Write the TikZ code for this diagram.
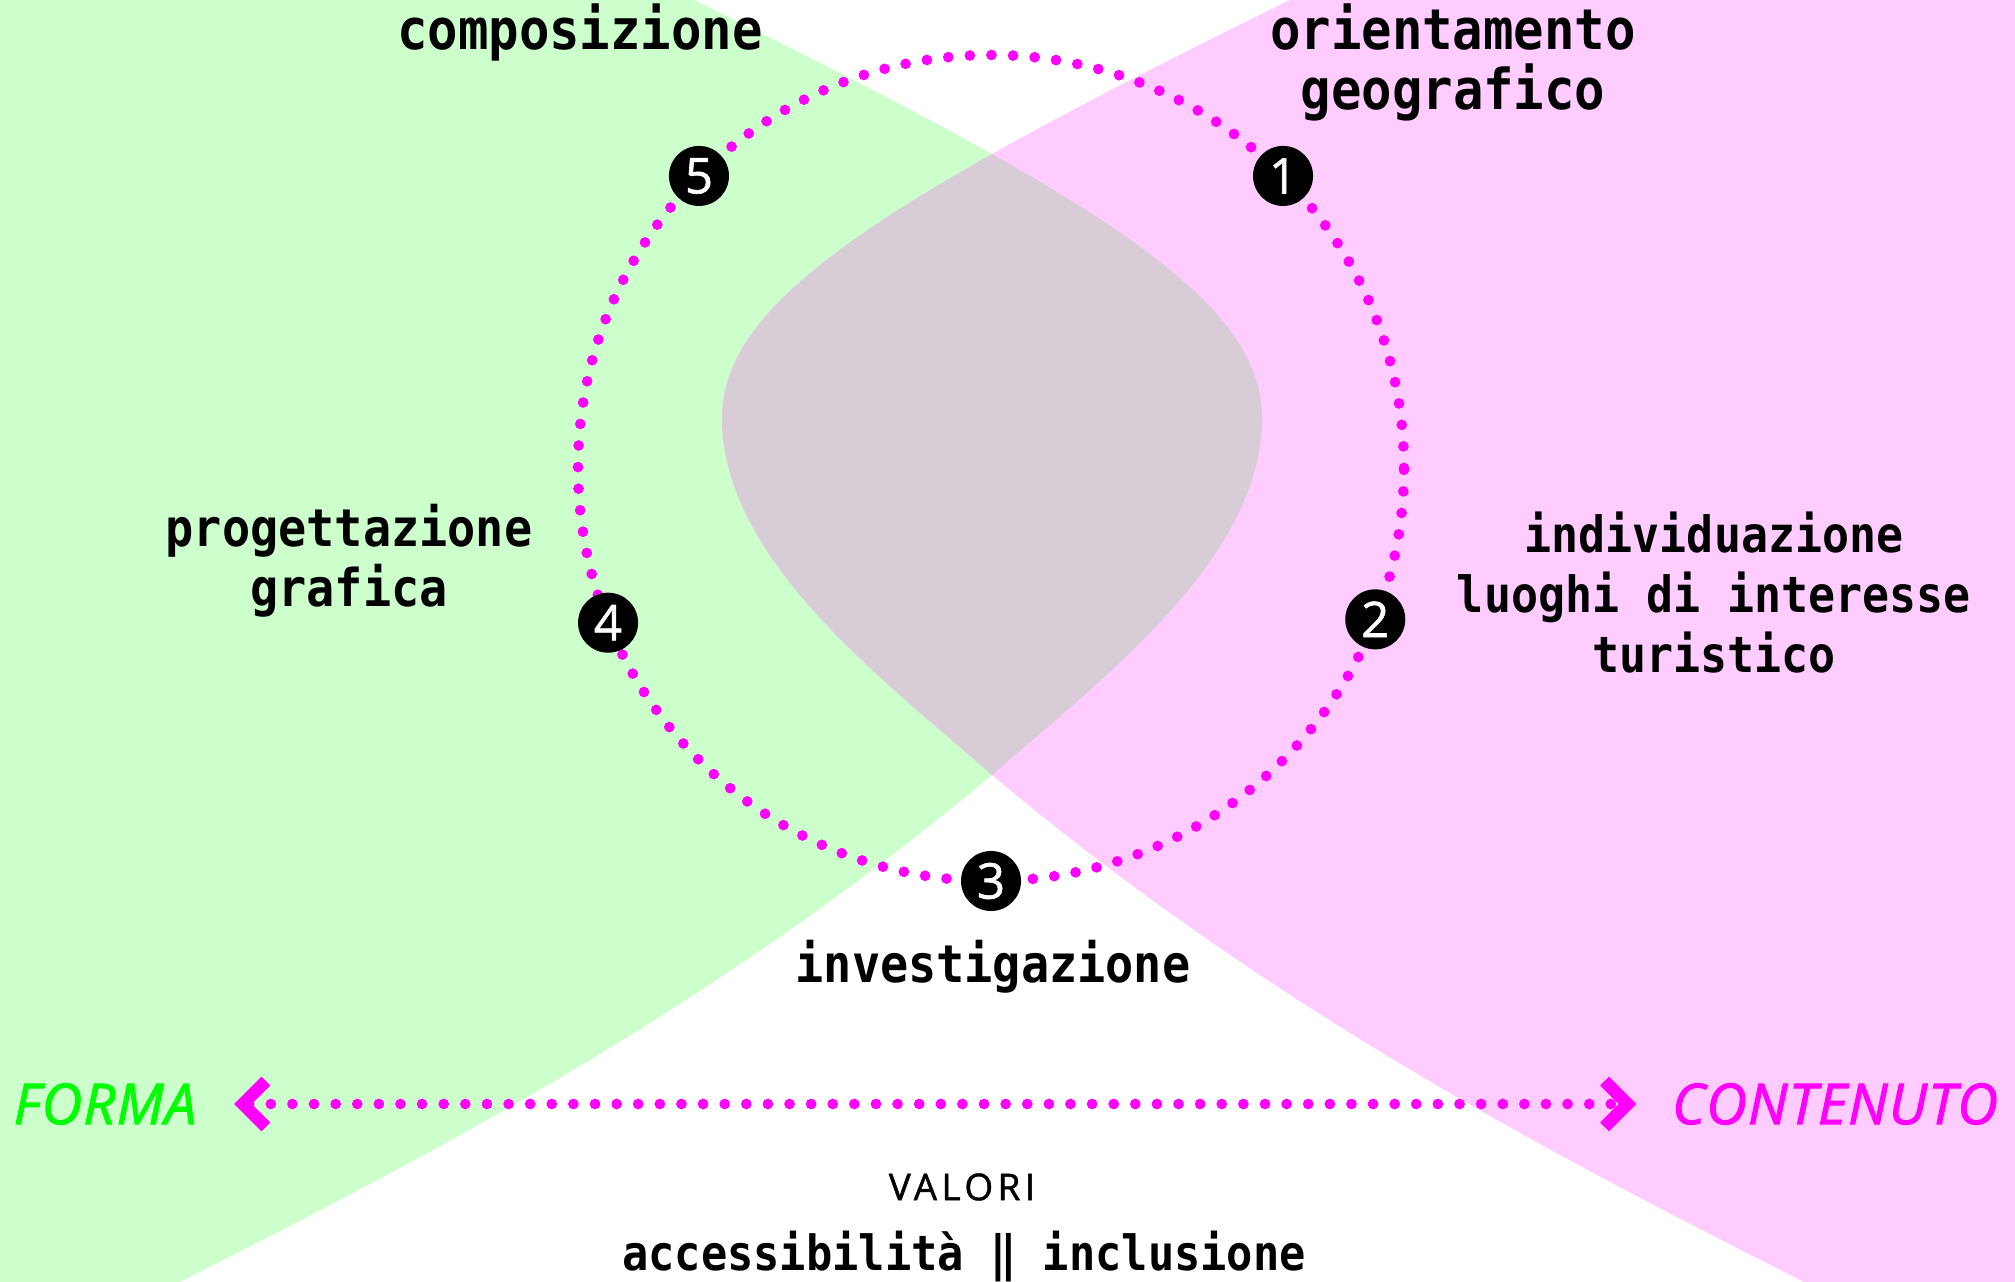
\documentclass[tikz,border=0pt]{standalone}
\usepackage{fontspec}
\usepackage{xcolor}
\usepackage{tikz}
\usetikzlibrary{arrows.meta, positioning, calc}

\newfontfamily\tappafont{DejaVu Sans Mono}[FakeStretch=0.9]
\newfontfamily\assefont{Open Sans}[FakeBold=1.6, LetterSpace=2]
\newfontfamily\numerofont{Open Sans}[FakeBold=1.2]
\newfontfamily\valorifont{Open Sans}[FakeBold=1.2, LetterSpace=12]

\definecolor{verdechiaro}{HTML}{CCFFCC}
\definecolor{rosachiaro}{HTML}{FFCCFF}
\definecolor{grigiolente}{HTML}{D8CDD6}
\definecolor{fucsia}{HTML}{FF00FF}
\definecolor{verde}{HTML}{00FF00}

% regione "forma" (la "contenuto" e' lo specchio)
\newcommand{\formaregione}{(-40,1282) -- (694,1282) .. controls (1100,1082) and (1262,982) .. (1262,864) .. controls (1262,722) and (1100,602) .. (992,507) .. controls (700,262) and (400,112) .. (180,0) -- (-40,0) -- cycle}

\tikzset{
	tappa/.style={
		font=\tappafont\bfseries\fontsize{14.8}{17.1}\selectfont,
		align=center,
		inner sep=0pt
	},
	tappagrande/.style={
		tappa,
		font=\tappafont\bfseries\fontsize{16}{17.1}\selectfont
	},
	numero/.style={
		circle,
		fill=black,
		text=white,
		minimum size=6mm,
		inner sep=0pt,
		font=\numerofont\fontsize{14}{14}\selectfont
	},
	asse/.style={
		font=\assefont\itshape\fontsize{16}{16}\selectfont,
		inner sep=0pt
	},
	puntini/.style={
		draw=fucsia,
		line width=1.07mm,
		line cap=round,
		dash pattern=on 0pt off 2.16mm
	},
	freccia/.style={
		puntini,
		{Straight Barb[length=2.3mm, width=4.6mm, line width=1.25mm]}-{Straight Barb[length=2.3mm, width=4.6mm, line width=1.25mm]}
	}
}

\begin{document}
\begin{tikzpicture}[x=0.01cm, y=0.01cm]
	\useasboundingbox (0,0) rectangle (2015,1282);
	\clip (0,0) rectangle (2015,1282);
	
	% Sfondo
	\fill[verdechiaro] \formaregione;
	\begin{scope}[shift={(1984,0)}, xscale=-1]
		\fill[rosachiaro] \formaregione;
	\end{scope}
	\begin{scope}
		\clip \formaregione;
		\begin{scope}[shift={(1984,0)}, xscale=-1]
			\fill[grigiolente] \formaregione;
		\end{scope}
	\end{scope}
	
	% Ciclo
	\coordinate (centro) at (991,814);
	\draw[puntini] (centro) circle[radius=413];
	
	% Tappe
	\node[numero] (t1) at ($(centro)+(45:413)$) {1};
	\node[numero] (t2) at ($(centro)+(-21.5:413)$) {2};
	\node[numero] (t3) at ($(centro)+(-90:413)$) {3};
	\node[numero] (t4) at ($(centro)+(202:413)$) {4};
	\node[numero] (t5) at ($(centro)+(135:413)$) {5};
	
	% Etichette
	\node[tappagrande, anchor=base] (orient) at (1453,1172) {orientamento\\geografico};
	\node[tappa, font=\tappafont\bfseries\fontsize{14.2}{17.1}\selectfont, anchor=base] (luoghi) at (1714,609) {individuazione\\luoghi di interesse\\turistico};
	\node[tappa, anchor=base] (indag) at (993,299) {investigazione};
	\node[tappa, anchor=base] (proget) at (349,675) {progettazione\\grafica};
	\node[tappagrande, anchor=base] (compos) at (580,1232) {composizione};
	
	% Asse forma - contenuto
	\node[asse, text=verde] (forma) at (105,178) {FORMA};
	\node[asse, text=fucsia] (contenuto) at (1835,178) {CONTENUTO};
	\draw[freccia, shorten <=3.7mm, shorten >=3.5mm] (forma) -- (contenuto);
	
	% Valori
	\node[font=\valorifont\fontsize{10.5}{12}\selectfont, inner sep=0pt] (valori) at (962,95) {VALORI};
	\node[tappa, font=\tappafont\bfseries\fontsize{13.8}{16}\selectfont, anchor=base] (inclus) at (964,11) {accessibilità ‖ inclusione};
	
\end{tikzpicture}
\end{document}
